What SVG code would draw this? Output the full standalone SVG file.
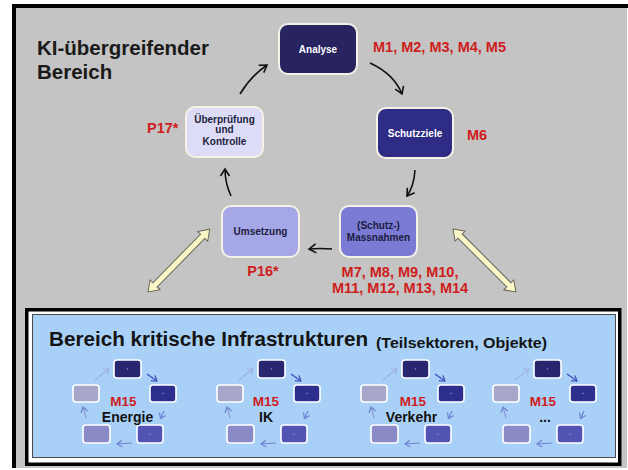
<svg xmlns="http://www.w3.org/2000/svg" xmlns:xlink="http://www.w3.org/1999/xlink" width="628" height="470" viewBox="0 0 628 470">
  <style>
    text { font-family: "Liberation Sans", Arial, sans-serif; font-weight: bold; }
    .title { font-size: 20.5px; fill: #1a1a1a; }
    .red { font-size: 14.5px; fill: #cf1d1d; }
    .box { stroke: #f4f1e6; stroke-width: 2; }
    .lbl { font-size: 10px; text-anchor: middle; }
    .lblw { fill: #ffffff; }
    .lbld { fill: #1c1c40; }
    .flow { fill: none; stroke: #111; stroke-width: 1.6; marker-end: url(#head); }
    .dbl { fill: #fbf6c8; stroke: #66665a; stroke-width: 1; }
    .mini { stroke: #ffffff; stroke-width: 1.6; }
    .marr { fill: none; stroke-width: 1.2; }
    .sector { font-size: 14px; fill: #111; text-anchor: middle; }
    .m15 { font-size: 13.5px; fill: #cf1d1d; text-anchor: middle; }
  </style>
  <defs>
    <marker id="head" markerUnits="userSpaceOnUse" markerWidth="14" markerHeight="14" refX="0" refY="0" viewBox="-10 -7 14 14" orient="auto">
      <path d="M-7,-4.5 L0,0 L-7,4.5" fill="none" stroke="#111" stroke-width="1.6"/>
    </marker>
    <marker id="mh1" markerUnits="userSpaceOnUse" markerWidth="10" markerHeight="10" refX="0" refY="0" viewBox="-7 -5 10 10" orient="auto">
      <path d="M-5,-3.4 L0,0 L-5,3.4" fill="none" stroke="#3d4bb8" stroke-width="1.2"/>
    </marker>
    <marker id="mh2" markerUnits="userSpaceOnUse" markerWidth="10" markerHeight="10" refX="0" refY="0" viewBox="-7 -5 10 10" orient="auto">
      <path d="M-5,-3.4 L0,0 L-5,3.4" fill="none" stroke="#6f80cf" stroke-width="1.2"/>
    </marker>
    <marker id="mh3" markerUnits="userSpaceOnUse" markerWidth="10" markerHeight="10" refX="0" refY="0" viewBox="-7 -5 10 10" orient="auto">
      <path d="M-5,-3.4 L0,0 L-5,3.4" fill="none" stroke="#9fb3e2" stroke-width="1.2"/>
    </marker>
    <!-- small five-step cycle used for each sector -->
    <g id="cycle">
      <rect class="mini" x="114" y="360" width="27" height="18" rx="3" fill="#28266f"/>
      <rect class="mini" x="150" y="385" width="26" height="17" rx="3" fill="#2e2f8c"/>
      <rect class="mini" x="137" y="425" width="26" height="18" rx="3" fill="#5253b3"/>
      <rect class="mini" x="83" y="425" width="27" height="18" rx="3" fill="#8a8ac6"/>
      <rect class="mini" x="73" y="385" width="26" height="17" rx="3" fill="#a6a6c8"/>
      <g fill="#9a9ad8">
        <circle cx="127.5" cy="369" r="0.7"/>
        <circle cx="163" cy="393.5" r="0.7"/>
        <circle cx="150" cy="434" r="0.7"/>
        <circle cx="96.5" cy="434" r="0.7"/>
        <circle cx="86" cy="393.5" r="0.7"/>
      </g>
      <path class="marr" d="M95,380 L109,369" stroke="#9fb3e2" marker-end="url(#mh3)"/>
      <path class="marr" d="M147,374 L157,381" stroke="#3d4bb8" marker-end="url(#mh1)"/>
      <path class="marr" d="M164,411 L160.5,418.5" stroke="#6f80cf" marker-end="url(#mh2)"/>
      <path class="marr" d="M132,443 L117,444" stroke="#6f80cf" marker-end="url(#mh2)"/>
      <path class="marr" d="M86,418 L83,407" stroke="#8a9ad6" marker-end="url(#mh2)"/>
    </g>
  </defs>

  <!-- upper area frame -->
  <rect x="0" y="0" width="628" height="470" fill="#ffffff"/>
  <rect x="14" y="6" width="613" height="462" fill="#c4c4c4"/>
  <rect x="12" y="4" width="616" height="4" fill="#000"/>
  <rect x="12" y="4" width="4" height="464" fill="#000"/>

  <text class="title" x="37" y="55">KI-übergreifender</text>
  <text class="title" x="37" y="79">Bereich</text>

  <!-- connectors of the main cycle -->
  <g id="connectors">
    <path class="flow" d="M240,94 Q251,76 267,65"/>
    <path class="flow" d="M370,63 Q394,74 402,94"/>
    <path class="flow" d="M415,170 Q414,186 407,196"/>
    <path class="flow" d="M332,249 Q320,248 309,249"/>
    <path class="flow" d="M231,196 Q225,183 225,169"/>
    <polygon class="dbl" transform="translate(148,292) rotate(-45.5)" points="0,0 10,-7 10,-3 78,-3 78,-7 88,0 78,7 78,3 10,3 10,7"/>
    <polygon class="dbl" transform="translate(453,229) rotate(45)" points="0,0 10,-7 10,-3 79,-3 79,-7 89,0 79,7 79,3 10,3 10,7"/>
  </g>

  <g id="analyse">
    <rect class="box" x="279" y="24" width="78" height="50" rx="9" fill="#27245f"/>
    <text class="lbl lblw" x="318" y="52.5" font-size="10.5">Analyse</text>
  </g>
  <text class="red" x="373" y="52" textLength="133" lengthAdjust="spacingAndGlyphs">M1, M2, M3, M4, M5</text>

  <g id="schutzziele">
    <rect class="box" x="377" y="108" width="76" height="50" rx="9" fill="#2e2c84"/>
    <text class="lbl lblw" x="415" y="137">Schutzziele</text>
  </g>
  <text class="red" x="467" y="140">M6</text>

  <g id="massnahmen">
    <rect class="box" x="340" y="206" width="77" height="51" rx="9" fill="#7b7bd6"/>
    <text class="lbl lbld" x="378.5" y="229">(Schutz-)</text>
    <text class="lbl lbld" x="378.5" y="241">Massnahmen</text>
  </g>
  <text class="red" x="400" y="277" text-anchor="middle">M7, M8, M9, M10,</text>
  <text class="red" x="400" y="293" text-anchor="middle">M11, M12, M13, M14</text>

  <g id="umsetzung">
    <rect class="box" x="222" y="206" width="77" height="51" rx="9" fill="#a6a7e6"/>
    <text class="lbl lbld" x="260.5" y="235">Umsetzung</text>
  </g>
  <text class="red" x="263" y="276" text-anchor="middle">P16*</text>

  <g id="ueberpruefung">
    <rect class="box" x="186" y="107" width="77" height="50" rx="9" fill="#dcdcf6"/>
    <text class="lbl lbld" x="224.5" y="123" font-size="9.5">Überprüfung</text>
    <text class="lbl lbld" x="224.5" y="133" font-size="9.5">und</text>
    <text class="lbl lbld" x="224.5" y="145" font-size="9.5">Kontrolle</text>
  </g>
  <text class="red" x="147" y="133">P17*</text>

  <!-- critical infrastructure area -->
  <g id="kritis">
    <rect x="26.75" y="309.75" width="593" height="154.5" fill="#ffffff" stroke="#000" stroke-width="3.5"/>
    <rect x="32.5" y="314.5" width="583" height="143" fill="#a9d1f8" stroke="#4a4a4a" stroke-width="1"/>
    <text x="49" y="346" font-size="20" fill="#141414" textLength="319" lengthAdjust="spacingAndGlyphs">Bereich kritische Infrastrukturen</text>
    <text x="376" y="348" font-size="15.5" fill="#141414" textLength="171" lengthAdjust="spacingAndGlyphs">(Teilsektoren, Objekte)</text>
  </g>

  <g id="energie">
    <use xlink:href="#cycle"/>
    <text class="m15" x="123.5" y="405.5">M15</text>
    <text class="sector" x="127.5" y="422">Energie</text>
  </g>
  <g id="ik">
    <use xlink:href="#cycle" x="144"/>
    <text class="m15" x="266" y="405.5">M15</text>
    <text class="sector" x="266" y="422">IK</text>
  </g>
  <g id="verkehr">
    <use xlink:href="#cycle" x="288"/>
    <text class="m15" x="413" y="405.5">M15</text>
    <text class="sector" x="411.5" y="422">Verkehr</text>
  </g>
  <g id="weitere">
    <use xlink:href="#cycle" x="420"/>
    <text class="m15" x="543" y="405.5">M15</text>
    <text class="sector" x="545" y="422">...</text>
  </g>
</svg>
